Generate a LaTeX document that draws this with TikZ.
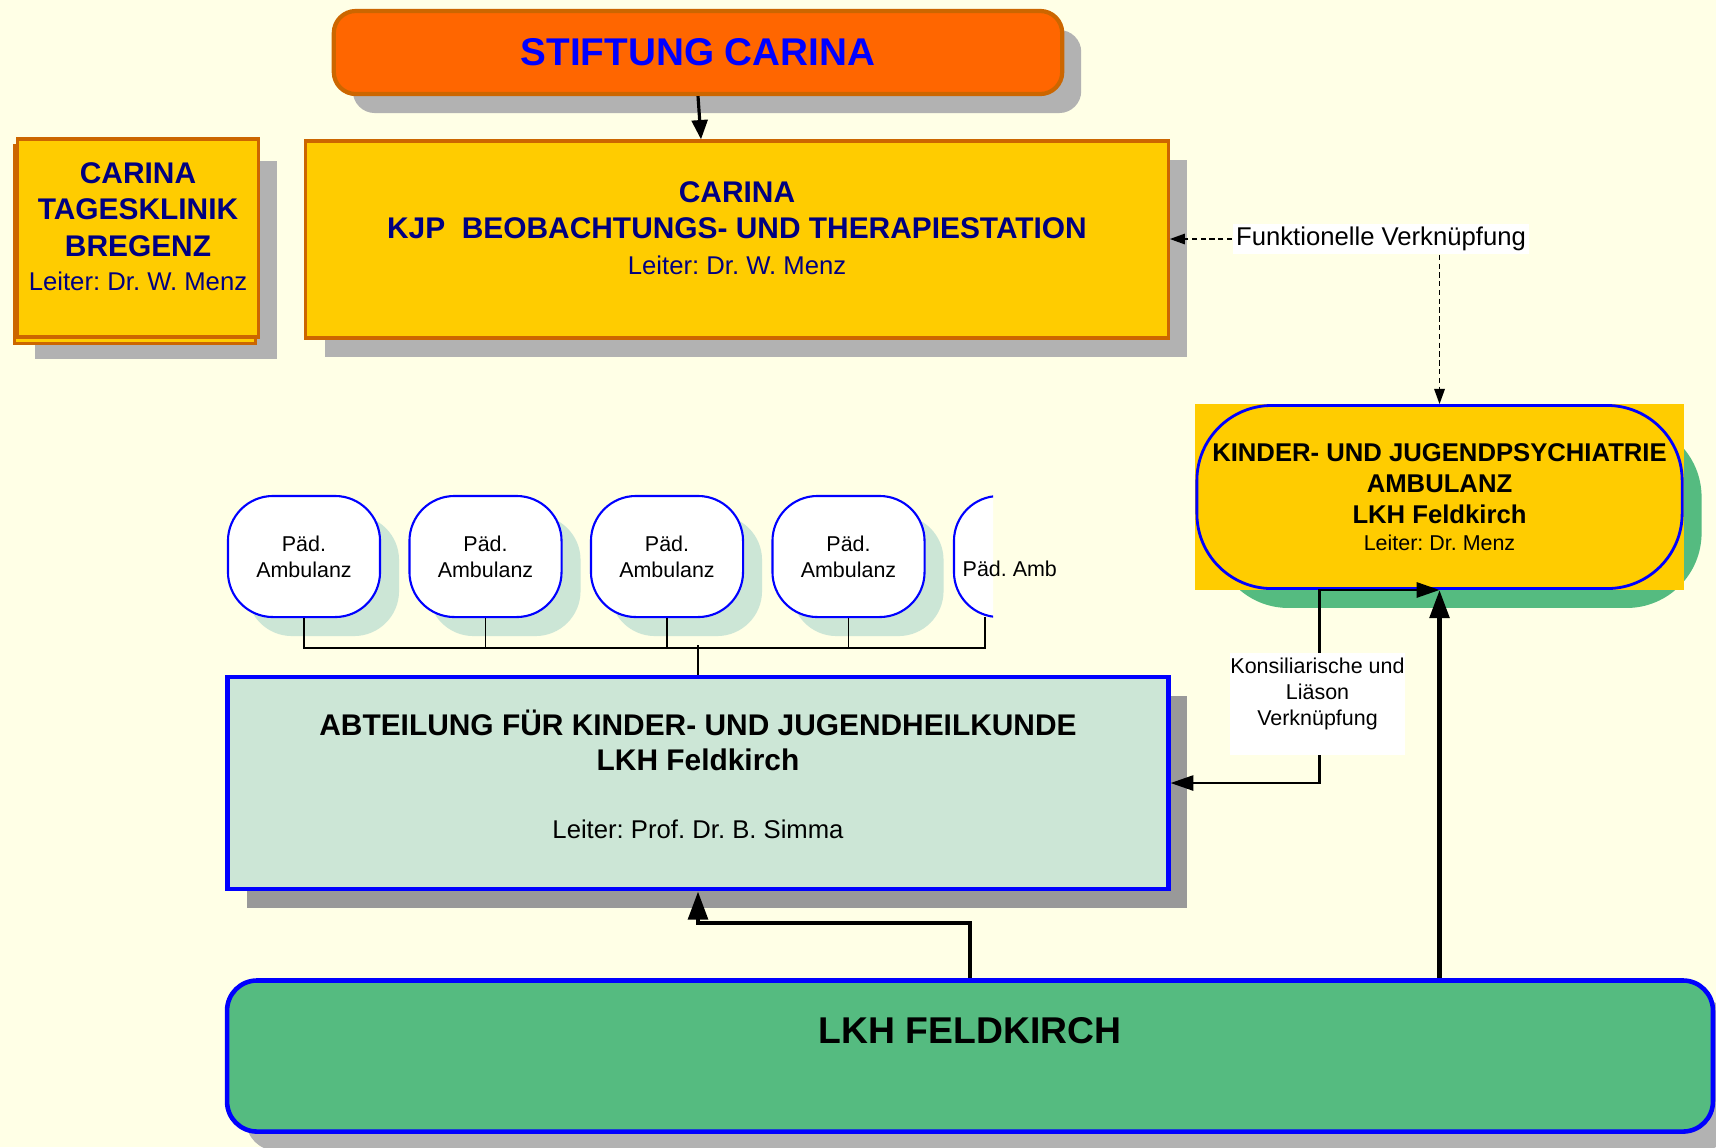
\documentclass[tikz,border=0pt]{standalone}
\usepackage{fontspec}
\setmainfont{Liberation Sans}
\frenchspacing
\usetikzlibrary{shadows}
\usetikzlibrary{arrows.meta}
\definecolor{paper}{RGB}{255,255,230}
\definecolor{stiftorange}{RGB}{255,102,0}
\definecolor{rimorange}{RGB}{204,102,0}
\definecolor{carinagelb}{RGB}{255,204,0}
\definecolor{navytext}{RGB}{0,0,128}
\definecolor{lightgrey}{RGB}{178,178,178}
\definecolor{darkgrey}{RGB}{153,153,153}
\definecolor{mint}{RGB}{204,230,214}
\definecolor{lkhgreen}{RGB}{85,187,128}
\pgfdeclarelayer{paperlayer}
\pgfdeclarelayer{behind}
\pgfsetlayers{paperlayer,behind,main}

\begin{document}
\begin{tikzpicture}[x=0.01cm, y=-0.01cm,
    greyshadow/.style={drop shadow={shadow xshift=0.19cm, shadow yshift=-0.19cm, fill=#1, opacity=1}},
    stiftbox/.style={rounded corners=0.22cm, draw=rimorange, line width=1.2pt, fill=stiftorange,
      text=blue, inner sep=0pt, font=\fontsize{11}{13}\selectfont\bfseries,
      minimum width=7.28cm, minimum height=0.83cm, greyshadow=lightgrey},
    carinabox/.style={draw=rimorange, line width=0.9pt, fill=carinagelb, text=navytext,
      align=center, inner sep=0pt, font=\fontsize{8.5}{10.3}\selectfont\bfseries},
    ambbox/.style={rounded corners=0.75cm, draw=blue, line width=0.8pt, inner sep=0pt,
      minimum width=4.85cm, minimum height=1.83cm, align=center,
      font=\fontsize{7.3}{8.9}\selectfont\bfseries},
    padbox/.style={rounded corners=0.45cm, draw=blue, line width=0.6pt, fill=white,
      minimum width=1.52cm, minimum height=1.21cm, inner sep=0pt, align=center,
      font=\fontsize{6.1}{7.5}\selectfont},
    padshadow/.style={drop shadow={shadow xshift=0.19cm, shadow yshift=-0.19cm, fill=mint, opacity=1}},
    abtbox/.style={draw=blue, line width=1.3pt, fill=mint, minimum width=9.4cm, minimum height=2.12cm,
      inner sep=0pt, align=center, font=\fontsize{8.5}{10}\selectfont\bfseries, greyshadow=darkgrey},
    lkhbox/.style={rounded corners=0.3cm, draw=blue, line width=1.3pt, fill=lkhgreen,
      minimum width=14.85cm, minimum height=1.51cm, inner sep=0pt,
      font=\fontsize{10.6}{12}\selectfont\bfseries, greyshadow=lightgrey},
    tag/.style={fill=white, inner sep=0pt, align=center},
    link/.style={line width=0.9pt, -{Triangle[length=5.5pt,width=4.5pt]}},
    heavy/.style={line width=1.3pt, -{Triangle[length=8pt,width=5.5pt]}},
    konsil/.style={line width=0.7pt, {Triangle[length=6.5pt,width=4.3pt]}-{Triangle[length=6.5pt,width=4.3pt]}},
    funklink/.style={line width=0.4pt, dash pattern=on 1.5pt off 1pt, -{Triangle[length=4.3pt,width=3pt]}},
    bus/.style={line width=0.4pt}]

  \begin{pgfonlayer}{paperlayer}
    \fill[paper] (0,0) rectangle (1716,1147);
  \end{pgfonlayer}
  \useasboundingbox (0,0) rectangle (1716,1147);

  % Stiftung und Carina
  \node[stiftbox] (stift) at (698,52.5) {STIFTUNG CARINA};
  \node[carinabox, greyshadow=lightgrey, minimum width=8.62cm, minimum height=1.97cm, text depth=6.5pt]
    (kjp) at (737,239.5)
    {CARINA\\KJP\ \ BEOBACHTUNGS- UND THERAPIESTATION\\{\mdseries\fontsize{7.3}{10.3}\selectfont Leiter: Dr. W. Menz}};
  \node[carinabox, drop shadow={shadow xshift=0.18cm, shadow yshift=-0.22cm, fill=lightgrey, opacity=1},
    copy shadow={shadow xshift=-0.03cm, shadow yshift=-0.065cm},
    minimum width=2.41cm, minimum height=1.98cm, text depth=6.5pt]
    (tages) at (138,238)
    {CARINA\\TAGESKLINIK\\BREGENZ\\[-0.5pt]{\mdseries\fontsize{7.3}{10.3}\selectfont Leiter: Dr. W. Menz}};
  \draw[link] (stift.south) -- ([xshift=0.03cm]stift.south |- kjp.north);

  % KJP Ambulanz
  \node[ambbox] (amb) at (1439.5,497)
    {KINDER- UND JUGENDPSYCHIATRIE\\AMBULANZ\\LKH Feldkirch\\[-1.3pt]{\mdseries\fontsize{6.1}{8}\selectfont Leiter: Dr. Menz}};
  \begin{pgfonlayer}{behind}
    \fill[lkhgreen, rounded corners=0.75cm] ([xshift=0.18cm,yshift=-0.18cm]amb.south west)
      rectangle ([xshift=0.18cm,yshift=-0.18cm]amb.north east);
    \fill[carinagelb] (amb.south west) rectangle (amb.north east);
  \end{pgfonlayer}

  \node[tag, font=\fontsize{7.3}{9}\selectfont, minimum width=2.96cm, minimum height=0.3cm]
    (funk) at (1381,239) {Funktionelle Verknüpfung};
  \draw[funklink] (funk.west) -- (funk.west -| kjp.east);
  \draw[funklink] (funk.south -| amb.north) -- (amb.north);

  % Paed. Ambulanzen
  \foreach \n/\x in {1/304, 2/485.5, 3/667, 4/848.5}
    \node[padbox, padshadow] (pad\n) at (\x,556.5) {Päd.\\Ambulanz};
  \begin{scope}
    \clip (900,400) rectangle (993,700);
    \node[padbox] (pad5) at (1030,556.5) {};
  \end{scope}
  \node[anchor=west, inner sep=0pt, font=\fontsize{6.1}{7.5}\selectfont] (pad5txt) at (962,569) {Päd. Amb};
  \coordinate (p5foot) at (985,617);

  % Abteilung
  \node[abtbox, text depth=5pt] (abt) at (698,783)
    {ABTEILUNG FÜR KINDER- UND JUGENDHEILKUNDE\\LKH Feldkirch\\[9.5pt]{\mdseries\fontsize{7.3}{10}\selectfont Leiter: Prof. Dr. B. Simma}};

  \draw[bus] (pad1.south) -- ++(0,30) -| (p5foot);
  \foreach \n in {2,3,4}
    \draw[bus] (pad\n.south) -- ++(0,30);
  \draw[bus, line width=0.6pt] (abt.north) -- ++(0,-30);

  % LKH
  \node[lkhbox, text depth=14.5pt] (lkh) at (970,1056) {LKH FELDKIRCH};
  \draw[heavy] (lkh.north) -- ++(0,-55) -| (abt.south);
  \draw[heavy] (lkh.north -| amb.south) -- (amb.south);

  \draw[konsil] (abt.east) -| ([xshift=-1.2cm]amb.south) -- (amb.south);
  \node[tag, font=\fontsize{6.1}{7.5}\selectfont, minimum width=1.75cm, minimum height=1.02cm, text depth=7pt]
    (kons) at (1317.5,704) {Konsiliarische und\\Liäson\\Verknüpfung};
\end{tikzpicture}
\end{document}
